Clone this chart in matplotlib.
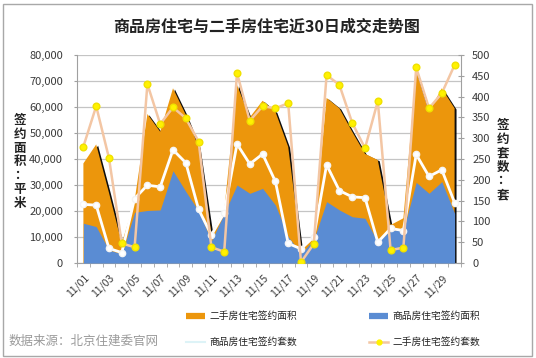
import numpy as np
import matplotlib.pyplot as plt
import matplotlib.patheffects as pe
from matplotlib.lines import Line2D
from matplotlib.patches import Rectangle

plt.rcParams['font.family'] = ['Noto Sans CJK SC', 'DejaVu Sans']

dates = ["11/01", "11/02", "11/03", "11/04", "11/05", "11/06", "11/07", "11/08",
         "11/09", "11/10", "11/11", "11/12", "11/13", "11/14", "11/15", "11/16",
         "11/17", "11/18", "11/19", "11/20", "11/21", "11/22", "11/23", "11/24",
         "11/25", "11/26", "11/27", "11/28", "11/29", "11/30"]

# 二手房住宅签约面积 (平米)
second_area = [38300, 45600, 27000, 7500, 24000, 57300, 50500, 67200, 57000, 44700,
               11500, 20000, 68500, 56000, 62400, 58200, 44700, 5600, 10500, 63500,
               59500, 50500, 42000, 39600, 14600, 17200, 74000, 58200, 67200, 59500]
# 商品房住宅签约面积 (平米)
new_area = [15300, 14000, 5000, 3500, 19500, 20200, 20400, 35500, 27500, 20000,
            8500, 19000, 30000, 26800, 28700, 22300, 10100, 3700, 9000, 23600,
            20400, 17800, 17200, 8000, 12700, 12700, 31000, 26800, 31300, 19100]
# 商品房住宅签约套数
new_units = [141, 139, 35, 25, 155, 187, 183, 272, 241, 129,
             67, 121, 286, 238, 262, 196, 47, 34, 63, 236,
             174, 159, 157, 50, 83, 78, 261, 208, 224, 145]
# 二手房住宅签约套数
second_units = [280, 377, 252, 47, 38, 430, 334, 374, 348, 292,
                38, 27, 457, 342, 377, 372, 384, 2, 46, 452,
                428, 337, 276, 389, 31, 37, 470, 372, 408, 476]

ORANGE = "#EC960C"
BLUE = "#5A8CD3"
TAN = "#F3C6A4"
YELLOW = "#FFF200"
GRID = "#C4C4C4"
TXT = "#3A3A3A"

x = np.arange(1, len(dates) + 1)

fig = plt.figure(figsize=(5.36, 3.58), dpi=100)
ax = fig.add_axes([77 / 536, 1 - 263 / 358, 384 / 536, 208 / 358])

orange = ax.fill_between(x, 0, second_area, color=ORANGE, lw=0, zorder=2)
orange.set_path_effects([pe.SimplePatchShadow(offset=(1.4, -0.9), shadow_rgbFace="black", alpha=0.95),
                         pe.Normal()])
ax.fill_between(x, 0, new_area, color=BLUE, lw=0, zorder=3)

ax.set_xlim(0.5, len(dates) + 0.5)
ax.set_ylim(0, 80000)
ax.set_yticks(np.arange(0, 80001, 10000))
ax.set_yticklabels([f"{v:,}" for v in range(0, 80001, 10000)])
ax.yaxis.grid(True, color=GRID, lw=0.9)
ax.set_axisbelow(True)

ax.set_xticks(x[::2])
ax.set_xticklabels(dates[::2], rotation=45, ha="right", rotation_mode="anchor")
ax.set_xticks(np.arange(0.5, len(dates) + 1, 1), minor=True)
ax.tick_params(axis="x", which="major", length=0, pad=7, labelsize=7.5, labelcolor=TXT)
ax.tick_params(axis="x", which="minor", length=3, color="#A0A0A0")
ax.tick_params(axis="y", length=2, pad=8, labelsize=8, labelcolor=TXT, color="#A0A0A0")

for s in ["top", "right"]:
    ax.spines[s].set_visible(False)
for s in ["left", "bottom"]:
    ax.spines[s].set_color("#A0A0A0")

ax2 = ax.twinx()
ax2.plot(x, new_units, color="white", lw=2, marker="o", ms=4.5,
         mfc="white", mec="#F4F4F4", zorder=3)
ax2.plot(x, second_units, color=TAN, lw=1.8, marker="o", ms=4.8,
         mfc=YELLOW, mec="#F0E000", zorder=4)
ax2.set_ylim(0, 500)
ax2.set_yticks(np.arange(0, 501, 50))
ax2.tick_params(axis="y", direction="inout", length=4, pad=6, labelsize=8,
                labelcolor=TXT, color="#A0A0A0")
for s in ["top", "left", "bottom"]:
    ax2.spines[s].set_visible(False)
ax2.spines["right"].set_color("#A0A0A0")

fig.text(267 / 536, 1 - 27 / 358, "商品房住宅与二手房住宅近30日成交走势图",
         ha="center", va="center", fontsize=11.5, fontweight="bold", color="#222222")
fig.text(20 / 536, 1 - 162 / 358, "\n".join("签约面积：平米"), ha="center", va="center",
         fontsize=9, fontweight="bold", linespacing=1.08, color="#222222")
fig.text(503 / 536, 1 - 160 / 358, "\n".join("签约套数：套"), ha="center", va="center",
         fontsize=9, fontweight="bold", linespacing=1.08, color="#222222")
fig.text(9 / 536, 1 - 341 / 358, "数据来源：北京住建委官网", ha="left", va="center",
         fontsize=9, color="#9A9A9A")

handles = [
    Line2D([], [], color=ORANGE, lw=4.5, solid_capstyle="butt"),
    Line2D([], [], color="#DDF3F7", lw=1.5),
    Line2D([], [], color=BLUE, lw=4.5, solid_capstyle="butt"),
    Line2D([], [], color=TAN, lw=1.8, marker="o", ms=3.5, mfc=YELLOW, mec=YELLOW),
]
labels = ["二手房住宅签约面积", "商品房住宅签约套数", "商品房住宅签约面积", "二手房住宅签约套数"]
fig.legend(handles, labels, ncol=2, loc="upper left",
           bbox_to_anchor=(186 / 536, 1 - 311 / 358), frameon=False, fontsize=7,
           borderpad=0, borderaxespad=0, handlelength=2.0, handletextpad=0.4,
           columnspacing=7.4, labelspacing=1.65, labelcolor="#222222")

fig.patches.append(Rectangle((3 / 536, 2 / 358), 529 / 536, 352 / 358,
                             transform=fig.transFigure, fill=False, ec="#A8A8A8", lw=1))

plt.savefig("out.png", dpi=100)
